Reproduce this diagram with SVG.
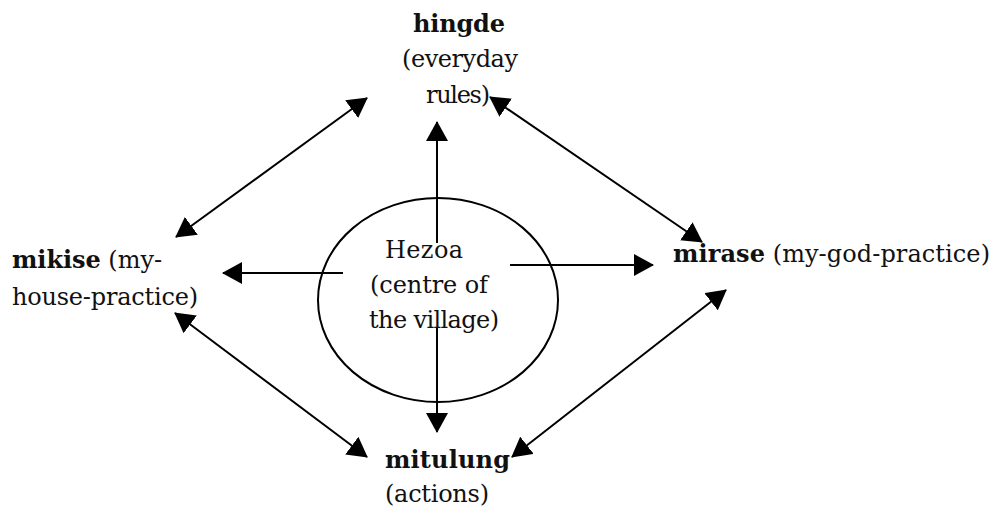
<svg xmlns="http://www.w3.org/2000/svg" width="997" height="518" viewBox="0 0 997 518">
<style>
text { font-family: "DejaVu Serif", "Liberation Serif", serif; font-size: 24px; fill: #111; }
.b { font-weight: bold; }
.c { text-anchor: middle; }
.ln { stroke: #000; stroke-width: 2; fill: none; }
</style>
<defs>
<marker id="ah" viewBox="0 0 20 22" markerUnits="userSpaceOnUse" markerWidth="20" markerHeight="22" refX="19" refY="11" orient="auto-start-reverse">
<path d="M0,0 L20,11 L0,22 z" fill="#000"/>
</marker>
</defs>
<rect width="997" height="518" fill="#fff"/>
<g id="connectors">
<line class="ln" x1="437" y1="243" x2="437" y2="122" marker-end="url(#ah)"/>
<line class="ln" x1="437" y1="327" x2="437" y2="432" marker-end="url(#ah)"/>
<line class="ln" x1="343" y1="273" x2="223" y2="273" marker-end="url(#ah)"/>
<line class="ln" x1="510" y1="265" x2="653" y2="265" marker-end="url(#ah)"/>
<line class="ln" x1="176" y1="237" x2="367" y2="98" marker-start="url(#ah)" marker-end="url(#ah)"/>
<line class="ln" x1="490" y1="97" x2="702" y2="242" marker-start="url(#ah)" marker-end="url(#ah)"/>
<line class="ln" x1="175" y1="313" x2="367" y2="457" marker-start="url(#ah)" marker-end="url(#ah)"/>
<line class="ln" x1="726" y1="290" x2="512" y2="457" marker-start="url(#ah)" marker-end="url(#ah)"/>
</g>
<g id="hezoa">
<ellipse class="ln" cx="438" cy="300" rx="120" ry="102"/>
<text class="c" x="424" y="258" textLength="78" lengthAdjust="spacing">Hezoa</text>
<text class="c" x="429" y="293" textLength="118" lengthAdjust="spacing">(centre of</text>
<text class="c" x="434" y="328" textLength="130" lengthAdjust="spacing">the village)</text>
</g>
<g id="hingde">
<text class="c b" x="459" y="32" textLength="92" lengthAdjust="spacing">hingde</text>
<text class="c" x="460" y="67" textLength="116" lengthAdjust="spacing">(everyday</text>
<text class="c" x="458" y="103" textLength="64" lengthAdjust="spacing">rules)</text>
</g>
<g id="mikise">
<text x="12" y="268" textLength="150" lengthAdjust="spacing"><tspan class="b">mikise</tspan> (my-</text>
<text x="12" y="305" textLength="186" lengthAdjust="spacing">house-practice)</text>
</g>
<g id="mirase">
<text x="673" y="262" textLength="317" lengthAdjust="spacing"><tspan class="b">mirase</tspan> (my-god-practice)</text>
</g>
<g id="mitulung">
<text class="b" x="385" y="468" textLength="125" lengthAdjust="spacing">mitulung</text>
<text x="385" y="502" textLength="104" lengthAdjust="spacing">(actions)</text>
</g>
</svg>
